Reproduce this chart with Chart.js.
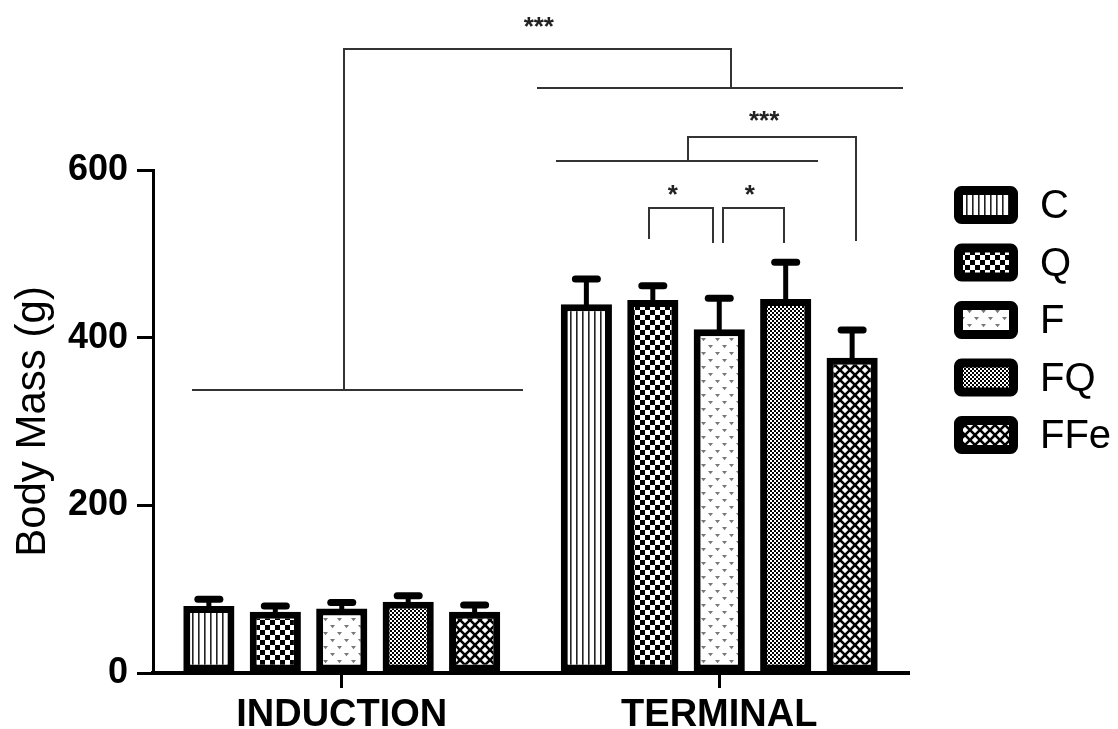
<!DOCTYPE html>
<html><head><meta charset="utf-8">
<script src="https://cdn.jsdelivr.net/npm/chart.js@4.4.1/dist/chart.umd.min.js"></script>
<style>html,body{margin:0;padding:0;background:#fff;}#wrap{width:1118px;height:729px;position:relative;}</style>
</head><body><div id="wrap"><canvas id="c"></canvas></div>
<script>
// ---- data ----
const categories = ['INDUCTION', 'TERMINAL'];
const groups = ['C', 'Q', 'F', 'FQ', 'FFe'];
const meanC   = [80, 440];
const meanQ   = [73, 445];
const meanF   = [77, 410];
const meanFQ  = [85, 446];
const meanFFe = [73, 376];
const sdC   = [8, 30];
const sdQ   = [7, 17];
const sdF   = [7, 37];
const sdFQ  = [7, 44];
const sdFFe = [8, 33];
const yTicks = [0, 200, 400, 600];
const yTitle = 'Body Mass (g)';
// significance annotations (x in category units, y in data units)
const bracketSegments = [
  [-0.394, 337.6, 0.4775, 337.6],
  [0.006, 337.6, 0.006, 744.3],
  [0.006, 744.3, 1.031, 744.3],
  [1.031, 744.3, 1.031, 697.8],
  [0.520, 697.8, 1.484, 697.8],
  [0.570, 610.8, 1.259, 610.8],
  [0.917, 610.8, 0.917, 639.4],
  [0.917, 639.4, 1.362, 639.4],
  [1.362, 639.4, 1.362, 516.5],
  [0.814, 518.9, 0.814, 554.7],
  [0.814, 554.7, 0.984, 554.7],
  [0.984, 554.7, 0.984, 514.1],
  [1.010, 514.1, 1.010, 554.7],
  [1.010, 554.7, 1.171, 554.7],
  [1.171, 554.7, 1.171, 514.1]
];
const starText = ['***', '***', '*', '*'];
const starX = [0.522, 1.119, 0.877, 1.081];
const starY = [779, 667, 578.5, 578.5];

const means = [meanC, meanQ, meanF, meanFQ, meanFFe];
const sds = [sdC, sdQ, sdF, sdFQ, sdFFe];

// ---- patterns ----
function makePattern(w, h, draw) {
  const c = document.createElement('canvas');
  c.width = w; c.height = h;
  const g = c.getContext('2d');
  g.fillStyle = '#fff'; g.fillRect(0, 0, w, h);
  draw(g, w, h);
  return document.createElement('canvas').getContext('2d').createPattern(c, 'repeat');
}
const patStripes = makePattern(6, 6, (g) => { g.fillStyle = '#222'; g.fillRect(0, 0, 1.6, 6); });
const patChecker = makePattern(10, 10, (g) => { g.fillStyle = '#000'; g.fillRect(0, 0, 5, 5); g.fillRect(5, 5, 5, 5); });
const patHearts = makePattern(14, 14, (g) => {
  g.fillStyle = '#777';
  const mark = (x, y) => { g.beginPath(); g.moveTo(x - 2.5, y - 1.5); g.lineTo(x + 2.5, y - 1.5); g.lineTo(x, y + 1.8); g.closePath(); g.fill(); };
  mark(3.5, 3.5); mark(10.5, 10.5);
});
const patFine = makePattern(4, 4, (g) => { g.fillStyle = '#000'; g.fillRect(0, 0, 2, 2); g.fillRect(2, 2, 2, 2); });
const patDiamond = makePattern(10, 10, (g) => {
  g.strokeStyle = '#000'; g.lineWidth = 2.6;
  for (const o of [-10, 0, 10]) {
    g.beginPath(); g.moveTo(o - 1, -1); g.lineTo(o + 11, 11); g.stroke();
    g.beginPath(); g.moveTo(o + 11, -1); g.lineTo(o - 1, 11); g.stroke();
  }
});
const patterns = [patStripes, patChecker, patHearts, patFine, patDiamond];

const FONT = "'Liberation Sans', Arial, Helvetica, sans-serif";

const errorBarPlugin = {
  id: 'errorBars',
  afterDatasetsDraw(chart) {
    const ctx = chart.ctx;
    const y = chart.scales.y;
    ctx.save();
    ctx.strokeStyle = '#000';
    chart.data.datasets.forEach((ds, di) => {
      const meta = chart.getDatasetMeta(di);
      meta.data.forEach((bar, i) => {
        const top = y.getPixelForValue(ds.data[i]);
        const end = y.getPixelForValue(ds.data[i] + ds.sd[i]);
        ctx.lineWidth = 5; ctx.lineCap = 'butt';
        ctx.beginPath(); ctx.moveTo(bar.x, top + 2); ctx.lineTo(bar.x, end); ctx.stroke();
        ctx.lineWidth = 7; ctx.lineCap = 'round';
        ctx.beginPath(); ctx.moveTo(bar.x - 11, end); ctx.lineTo(bar.x + 11, end); ctx.stroke();
      });
    });
    ctx.restore();
  }
};

const annotationPlugin = {
  id: 'sigAnnotations',
  afterDraw(chart) {
    const ctx = chart.ctx;
    const xs = chart.scales.x, ys = chart.scales.y;
    ctx.save();
    ctx.strokeStyle = '#333'; ctx.lineWidth = 2; ctx.lineCap = 'square';
    bracketSegments.forEach(s => {
      ctx.beginPath();
      ctx.moveTo(Math.round(xs.getPixelForValue(s[0])), Math.round(ys.getPixelForValue(s[1])));
      ctx.lineTo(Math.round(xs.getPixelForValue(s[2])), Math.round(ys.getPixelForValue(s[3])));
      ctx.stroke();
    });
    ctx.fillStyle = '#222';
    ctx.font = 'bold 26px ' + FONT;
    ctx.textAlign = 'center'; ctx.textBaseline = 'alphabetic';
    starText.forEach((t, i) => {
      ctx.fillText(t, xs.getPixelForValue(starX[i]), ys.getPixelForValue(starY[i]) + 0.57 * 26);
    });
    ctx.restore();
  }
};

const legendPlugin = {
  id: 'customLegend',
  afterDraw(chart) {
    const ctx = chart.ctx;
    ctx.save();
    chart.data.datasets.forEach((ds, i) => {
      const cy = 205 + i * 57.5;
      const bx = 954, bw = 64, bh = 38, lw = 9;
      ctx.beginPath();
      ctx.roundRect(bx + lw / 2, cy - bh / 2 + lw / 2, bw - lw, bh - lw, 3);
      ctx.fillStyle = ds.backgroundColor; ctx.fill();
      ctx.lineWidth = lw; ctx.strokeStyle = '#000'; ctx.stroke();
      ctx.fillStyle = '#000';
      ctx.font = '40px ' + FONT;
      ctx.textAlign = 'left'; ctx.textBaseline = 'middle';
      ctx.fillText(ds.label, 1040, cy + 2);
    });
    ctx.restore();
  }
};

new Chart(document.getElementById('c'), {
  type: 'bar',
  data: {
    labels: categories,
    datasets: groups.map((g, i) => ({
      label: g,
      data: means[i],
      sd: sds[i],
      backgroundColor: patterns[i],
      borderColor: '#000',
      borderWidth: 7,
      borderSkipped: false,
      barPercentage: 0.77,
      categoryPercentage: 0.88
    }))
  },
  options: {
    responsive: true,
    maintainAspectRatio: false,
    animation: false,
    devicePixelRatio: 1,
    layout: { padding: { top: 170, right: 210, bottom: 0, left: 0 } },
    plugins: { legend: { display: false }, tooltip: { enabled: false } },
    scales: {
      x: {
        type: 'category',
        offset: true,
        grid: { offset: false, drawOnChartArea: false, drawTicks: true, tickLength: 15, color: '#000', lineWidth: 3 },
        border: { color: '#000', width: 4 },
        ticks: { color: '#000', font: { family: FONT, size: 38, weight: 'bold' }, padding: 5, maxRotation: 0 },
        afterFit(s) { s.height = 56; }
      },
      y: {
        min: 0, max: 600,
        afterBuildTicks(s) { s.ticks = yTicks.map(v => ({ value: v })); },
        grid: { drawOnChartArea: false, drawTicks: true, tickLength: 16, color: '#000', lineWidth: 3 },
        border: { color: '#000', width: 3 },
        ticks: { color: '#000', font: { family: FONT, size: 36, weight: 'bold' }, padding: 9 },
        title: { display: true, text: yTitle, color: '#000', font: { family: FONT, size: 42, lineHeight: 1.0 }, padding: { top: 12, bottom: 0 } },
        afterFit(s) { s.width = 153; }
      }
    }
  },
  plugins: [errorBarPlugin, annotationPlugin, legendPlugin]
});
</script></body></html>
